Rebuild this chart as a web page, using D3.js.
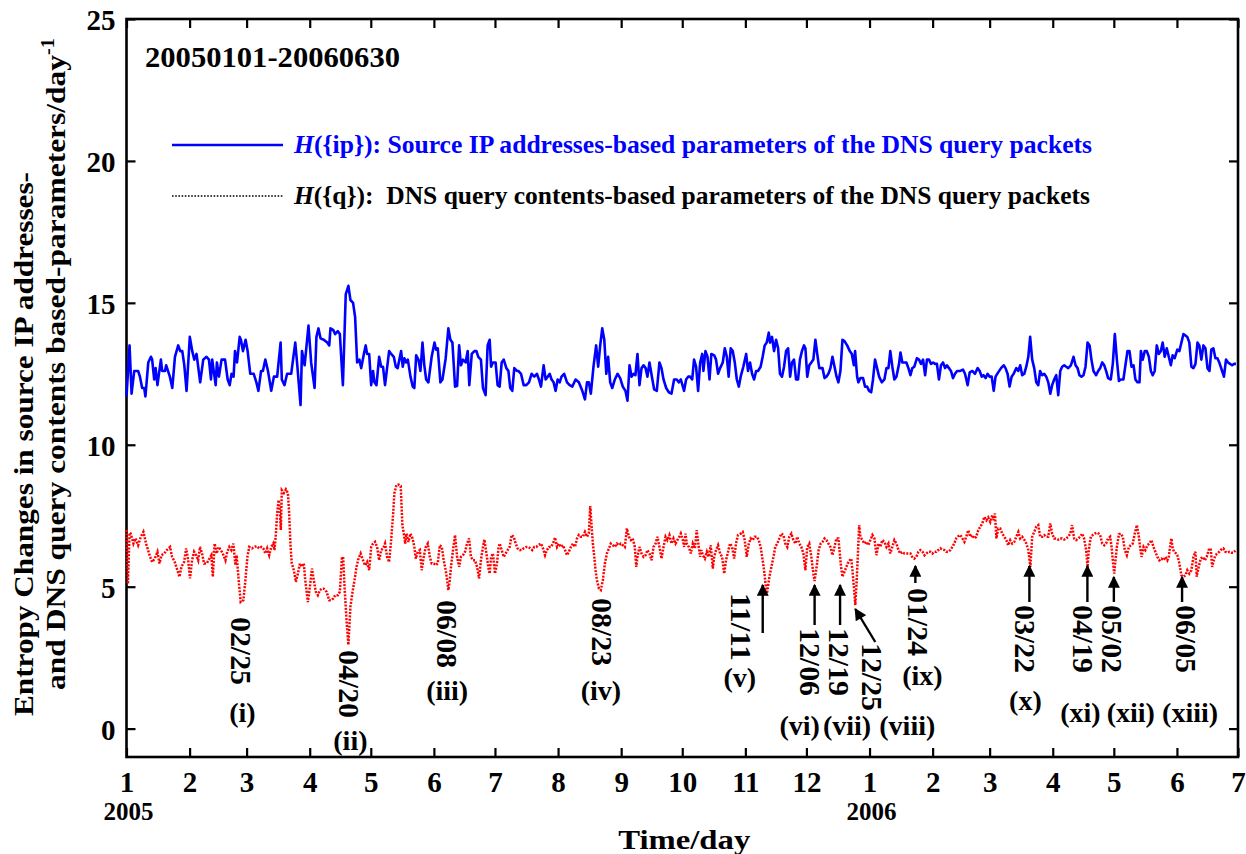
<!DOCTYPE html>
<html><head><meta charset="utf-8">
<script src="https://cdn.jsdelivr.net/npm/d3@7"></script>
<style>
body{margin:0;background:#fff;}
svg text{font-family:"Liberation Serif","Times New Roman",serif;font-weight:bold;}
</style></head><body>
<svg id="chart" width="1246" height="854"></svg>
<script>
// [day offset from 2005-01-01, entropy]
const ipSeries = [[0,11.7],[1.5,13.5],[2.5,11.8],[3.8,12.6],[5.7,12.6],[6.6,12.4],[7.7,12.0],[8.7,12.0],[9.3,11.7],[10.7,12.9],[12.0,13.1],[12.6,13.0],[13.6,12.3],[14.3,12.7],[15.2,12.1],[16.9,13.0],[17.5,12.6],[18.9,12.6],[19.5,12.8],[21.3,12.4],[22.5,12.0],[23.8,13.1],[25.4,13.5],[26.4,13.3],[27.4,13.3],[28.4,12.8],[29.5,11.9],[31.1,13.8],[32.3,13.3],[33.3,13.0],[34.4,13.2],[36.2,12.2],[37.7,13.0],[39.3,13.1],[40.5,13.0],[41.5,12.3],[42.1,13.0],[43.8,12.1],[44.4,12.9],[45.4,12.4],[46.7,13.0],[48.4,13.0],[49.7,12.3],[50.7,12.1],[51.6,12.5],[52.6,12.4],[53.3,13.3],[54.3,12.9],[55.6,13.8],[56.2,13.7],[57.2,13.3],[58.5,13.7],[59.5,13.3],[60.8,12.5],[62.5,12.5],[63.8,12.2],[64.8,11.9],[66.1,12.6],
[67.0,12.6],[68.2,13.0],[69.5,12.6],[71.1,11.9],[72.4,12.4],[74.0,12.4],[75.7,13.6],[76.3,12.3],[77.6,12.1],[78.9,12.5],[80.9,12.5],[82.9,13.6],[83.9,12.8],[85.5,11.4],[86.2,13.3],[87.5,12.8],[89.4,14.2],[90.7,12.9],[92.4,12.0],[93.3,13.8],[94.3,14.1],[95.3,13.75],[96.9,13.7],[98.6,13.6],[99.6,13.5],[100.2,14.1],[101.5,14.05],[102.5,13.9],[103.8,14.0],[104.8,13.9],[106.3,12.1],[107.7,15.3],[109.0,15.6],[110.0,15.1],[111.3,15.0],[112.3,14.5],[113.3,12.9],[114.4,13.0],[115.3,12.7],[116.6,13.2],[117.5,13.5],[118.2,13.2],[119.2,13.2],[120.2,12.1],[121.1,12.6],[121.8,12.2],[122.8,12.1],[124.1,13.1],[125.1,12.75],[126.0,12.75],[127.0,12.1],[129.0,13.3],[130.0,13.2],[131.3,13.1],[132.3,12.75],[133.2,12.7],
[134.9,13.3],[135.7,12.75],[136.5,13.05],[137.4,12.9],[138.2,13.0],[139.5,12.4],[140.6,12.05],[141.4,12.0],[142.3,13.15],[143.4,13.0],[144.4,12.6],[145.4,13.6],[146.3,12.8],[147.2,12.3],[148.3,12.2],[149.9,13.1],[151.3,13.6],[152.1,13.35],[152.9,13.4],[154.2,12.2],[155.2,12.3],[156.8,13.05],[158.1,14.1],[159.1,13.7],[160.1,13.6],[161.4,12.05],[162.4,12.07],[163.4,13.5],[164.3,12.8],[165.3,13.0],[166.6,12.9],[167.6,13.3],[168.4,12.1],[169.6,13.2],[170.9,13.3],[171.9,13.3],[172.8,13.1],[174.1,13.0],[175.1,12.0],[176.4,11.75],[177.4,13.5],[178.4,13.7],[179.1,12.75],[180.0,12.9],[181.3,12.9],[182.3,12.1],[183.3,12.05],[184.3,12.9],[185.3,13.0],[186.6,12.7],[187.6,12.6],[188.5,12.0],[189.5,11.9],[190.5,12.7],[191.8,12.6],[192.5,12.6],[193.8,12.5],[195.1,12.1],[196.4,12.1],[197.7,12.2],[199.0,12.5],[200.3,12.4],[201.6,12.5],[202.6,12.3],
[203.6,12.05],[204.9,12.8],[205.9,12.3],[206.9,12.4],[207.9,12.5],[208.8,12.3],[209.8,12.2],[210.8,11.9],[211.8,12.3],[212.8,12.2],[213.7,12.4],[215.0,12.5],[216.4,12.2],[217.7,12.1],[219.0,12.05],[220.6,12.3],[222.2,12.2],[223.9,11.9],[225.2,11.6],[226.2,12.2],[227.1,12.2],[228.1,11.8],[229.4,12.75],[230.7,13.5],[231.7,12.75],[232.7,13.5],[233.7,14.1],[234.7,13.7],[235.7,12.5],[236.6,13.1],[237.6,12.2],[238.6,12.0],[239.9,12.3],[241.2,12.5],[242.5,12.35],[243.8,12.05],[245.1,11.9],[246.1,11.55],[247.1,12.8],[248.1,12.4],[249.1,12.5],[250.0,12.45],[251.0,13.2],[252.0,12.1],[253.0,12.7],[254.0,12.8],[255.0,12.7],[255.9,12.4],[256.9,12.9],[258.2,12.35],[259.2,11.95],[260.5,11.9],[261.8,12.9],[262.8,12.7],[263.8,12.3],[265.1,12.0],[266.4,11.85],[267.7,11.8],[269.0,12.3],[270.3,12.3],[271.3,12.2],
[272.3,12.3],[273.1,12.1],[273.9,11.9],[274.9,12.3],[275.9,12.4],[276.9,12.4],[277.9,12.3],[278.8,13.0],[279.8,12.75],[280.8,11.9],[281.8,12.9],[282.8,13.2],[283.4,12.6],[284.4,13.3],[285.4,13.1],[286.4,12.3],[287.3,13.2],[288.7,13.15],[289.6,13.0],[290.6,12.5],[291.6,12.7],[292.9,12.9],[293.9,13.4],[294.9,13.1],[295.8,12.4],[296.8,13.4],[297.8,13.3],[298.8,12.9],[299.8,12.3],[300.8,12.05],[301.7,12.4],[303.0,12.75],[304.4,13.2],[305.3,12.6],[306.3,12.9],[307.3,12.5],[308.3,12.3],[309.3,12.6],[310.2,12.6],[311.5,12.75],[312.5,13.1],[313.5,13.5],[314.5,13.6],[315.5,13.95],[316.1,13.6],[317.1,13.8],[318.1,13.3],[319.1,13.7],[320.1,13.4],[321.0,12.5],[322.0,12.4],[323.0,12.75],[324.0,13.3],[325.0,13.4],[326.0,12.4],[326.9,12.9],[327.9,13.0],[328.9,12.3],[329.9,12.3],[330.8,13.0],[331.8,13.3],[332.8,13.5],[333.5,13.4],[334.4,12.4],[335.4,12.8],[336.4,12.9],[337.4,13.0],[338.4,13.7],[339.3,13.2],[340.3,12.7],
[340.9,12.7],[341.9,12.7],[342.9,12.35],[343.8,12.4],[344.8,12.5],[345.8,12.7],[346.8,13.1],[347.8,12.75],[348.8,12.4],[349.7,12.2],[350.7,12.6],[351.7,13.7],[352.7,13.65],[354.0,13.5],[355.3,13.3],[356.3,13.2],[357.3,12.8],[357.9,13.3],[358.9,12.4],[359.5,12.2],[360.5,12.35],[361.8,12.35],[362.8,12.05],[363.8,12.05],[364.8,11.9],[365.8,11.85],[366.7,12.3],[367.7,13.0],[368.7,12.7],[369.7,12.4],[371.0,12.2],[372.3,12.3],[373.3,12.7],[374.3,12.7],[375.2,13.3],[376.2,12.75],[377.2,12.3],[378.2,12.4],[379.5,12.85],[380.2,13.25],[381.1,12.9],[382.1,12.9],[383.1,12.9],[384.1,12.7],[385.1,12.45],[386.0,12.7],[387.0,12.75],[388.3,13.05],[389.3,13.0],[390.3,12.85],[391.3,13.0],[392.3,12.45],[393.2,13.0],[394.2,13.0],[395.2,12.85],[396.2,12.9],[397.2,12.85],[398.1,12.85],[399.1,12.3],[400.1,12.8],[401.1,12.9],[402.1,12.7],[403.0,12.8],[404.0,12.7],[405.0,12.6],[406.0,12.35],[407.0,12.5],[408.0,12.6],
[409.6,12.6],[410.9,12.65],[411.9,12.5],[413.2,12.1],[414.2,12.55],[415.5,12.6],[416.8,12.5],[418.1,12.7],[419.1,12.6],[420.1,12.4],[421.0,12.45],[422.0,12.35],[423.0,12.5],[424.0,12.4],[425.0,12.4],[426.0,11.9],[426.9,12.4],[428.2,12.55],[429.6,12.7],[430.9,12.8],[431.8,12.7],[432.8,12.5],[433.8,12.05],[434.8,12.4],[435.8,12.5],[437.1,12.7],[438.1,12.6],[439.0,12.8],[440.0,12.45],[441.0,12.5],[442.0,12.75],[443.0,13.1],[443.9,13.8],[444.9,13.0],[445.9,12.7],[446.9,12.2],[447.9,12.1],[448.8,12.6],[449.8,12.45],[450.8,12.5],[451.8,12.4],[452.8,12.2],[453.8,11.8],[454.7,12.1],[455.7,12.3],[456.7,12.45],[457.7,11.75],[458.7,12.6],[459.6,12.75],[460.6,12.8],[461.6,12.75],[462.6,12.7],[463.9,12.8],[465.2,13.1],[466.2,12.8],[467.2,12.7],[468.1,12.45],[469.1,12.4],[470.1,12.45],[471.1,12.75],[472.1,13.6],[473.1,13.5],[474.0,13.0],[475.0,12.6],[476.3,12.45],[477.3,12.6],
[478.3,12.7],[479.3,12.9],[480.3,12.8],[481.2,12.6],[482.2,12.35],[483.5,12.3],[484.5,12.85],[485.5,13.9],[486.5,13.0],[487.5,12.25],[488.4,12.3],[489.7,12.3],[490.7,12.8],[491.7,13.3],[492.7,13.3],[493.7,12.75],[494.7,12.8],[495.6,12.3],[496.6,12.2],[497.6,12.2],[498.3,13.3],[499.2,13.0],[500.2,13.3],[501.2,13.3],[502.2,13.1],[503.2,12.6],[504.1,12.45],[505.1,12.6],[506.1,13.5],[507.1,13.2],[508.1,13.3],[509.0,13.6],[510.0,13.1],[511.0,13.4],[512.0,13.1],[513.0,12.8],[513.9,13.15],[514.9,13.05],[516.2,13.35],[517.2,13.3],[518.2,13.6],[519.2,13.9],[520.2,13.85],[521.1,13.8],[522.1,13.6],[523.1,12.75],[524.1,12.7],[525.1,12.85],[526.1,13.6],[527.0,13.5],[528.0,13.0],[529.0,13.5],[530.0,13.4],[531.0,12.7],[532.0,12.6],[532.9,13.35],[533.9,13.4],[534.9,13.05],[535.9,13.05],[536.8,12.9],[538.2,12.6],[539.1,12.4],[540.1,13.0],[541.1,12.9],[542.1,12.85],[543.1,12.8],[544.1,12.85],[545.0,12.85]];

const qSeries = [[0,7.0],[0.7,5.1],[1.5,6.9],[2.1,6.87],[3.4,6.52],[4.4,6.7],[5.7,6.46],[7.0,6.75],[8.3,6.93],[9.6,6.52],[11.6,6.05],[12.6,5.87],[13.9,5.99],[15.2,6.23],[16.2,5.82],[17.2,6.11],[18.5,6.17],[19.8,6.29],[21.4,6.4],[22.4,6.05],[23.7,5.87],[25.0,5.58],[26.0,5.35],[27.0,5.7],[28.3,5.87],[29.3,6.35],[30.3,5.93],[31.2,5.29],[32.2,5.93],[33.2,6.23],[34.2,6.11],[35.2,5.93],[36.1,6.4],[37.1,6.17],[38.1,5.82],[39.4,5.82],[40.7,5.99],[41.7,6.11],[42.4,5.35],[43.3,6.52],[44.3,6.17],[45.3,6.4],[46.3,6.29],[47.3,6.17],[48.6,5.93],[49.5,6.23],[50.5,6.4],[51.5,6.29],[52.5,6.52],[53.5,5.76],[54.1,6.11],[55.1,5.23],[56.1,4.46],[57.4,4.52],[58.4,5.23],[59.4,6.05],[60.3,6.4],[61.6,6.35],[63.0,6.4],[63.9,6.43],[65.2,6.35],
[66.2,6.4],[67.2,6.35],[68.2,6.17],[69.1,6.35],[70.1,6.11],[71.1,6.4],[72.1,6.52],[72.7,6.29],[73.4,6.87],[74.0,7.58],[74.7,8.05],[75.4,7.6],[75.8,7.0],[76.3,8.4],[77.3,8.3],[78.3,8.43],[79.3,8.3],[79.9,7.58],[80.6,6.4],[81.2,5.82],[82.2,5.58],[83.2,5.17],[84.2,5.46],[85.2,5.82],[86.2,5.7],[87.1,5.82],[87.8,5.23],[88.4,4.88],[89.1,4.46],[90.1,5.0],[91.1,5.64],[92.0,5.23],[93.0,4.82],[94.0,4.7],[95.0,4.88],[96.0,4.93],[96.9,4.93],[98.3,4.82],[99.6,4.52],[100.5,4.52],[101.5,4.58],[102.5,4.7],[103.8,4.7],[104.8,4.82],[105.8,6.0],[106.4,6.05],[107.1,5.0],[108.1,3.8],[109.0,2.95],[110.0,4.3],[111.0,4.8],[112.0,5.23],[113.0,5.7],[114.0,6.0],[115.0,6.17],[116.2,5.93],[117.2,5.75],[118.2,5.87],[119.2,5.58],[120.2,6.4],[121.1,6.52],[122.1,6.58],[123.1,6.4],[124.1,5.93],[125.1,6.29],[126.1,6.35],[127.0,6.52],[128.0,6.05],[129.0,5.87],[130.0,6.64],[131.0,7.58],[131.6,8.3],[132.6,8.58],[133.6,8.6],[134.7,8.55],[135.5,7.2],
[136.2,6.87],[136.9,6.52],[137.5,6.87],[138.5,6.58],[139.5,6.87],[140.5,6.7],[141.4,6.4],[142.1,5.99],[143.1,6.23],[144.1,6.29],[145.0,5.58],[146.0,6.05],[147.0,6.4],[148.0,6.52],[149.0,6.05],[149.9,5.82],[150.9,5.82],[151.9,5.76],[152.9,5.82],[153.9,6.46],[154.9,6.4],[155.8,5.93],[156.8,5.58],[157.5,5.23],[158.1,4.88],[158.8,5.23],[159.4,5.7],[160.4,6.29],[161.4,6.82],[162.4,6.05],[163.4,5.7],[164.3,6.05],[165.3,6.11],[166.3,6.23],[167.3,6.52],[168.3,6.7],[169.2,6.05],[170.2,5.93],[171.2,5.93],[172.2,5.7],[173.2,5.29],[174.1,5.93],[175.1,6.4],[175.8,6.66],[176.8,6.17],[177.7,5.7],[178.4,5.46],[179.1,6.05],[180.0,6.17],[181.0,5.46],[182.0,5.82],[182.7,6.35],[183.3,6.52],[184.3,6.29],[185.3,6.05],[186.3,6.17],[187.2,6.29],[188.2,6.4],[189.2,6.82],[190.2,6.76],[191.2,6.52],[192.1,6.35],[193.1,6.29],[194.1,6.29],[195.1,6.35],[196.4,6.4],[197.4,6.4],[198.4,6.35],[199.3,6.29],[200.3,6.4],[201.3,6.4],[202.3,6.46],[203.6,6.52],
[204.6,6.35],[205.6,6.11],[206.5,6.29],[207.5,6.4],[208.5,6.4],[209.5,6.52],[210.5,6.73],[211.5,6.4],[212.4,6.52],[213.4,6.4],[214.4,6.46],[215.4,6.29],[216.4,6.11],[217.3,6.23],[218.3,6.4],[219.3,6.52],[220.3,6.4],[221.3,6.7],[222.2,6.82],[223.2,6.76],[224.2,6.76],[225.2,6.93],[226.2,6.76],[227.1,6.87],[227.8,7.84],[228.5,7.1],[229.1,6.52],[229.8,6.05],[230.4,5.58],[231.1,5.23],[232.1,4.93],[233.0,4.88],[234.0,5.23],[235.0,5.82],[236.0,6.17],[237.0,6.35],[237.9,6.52],[238.9,6.46],[239.9,6.4],[240.9,6.52],[241.9,6.46],[242.8,6.52],[243.8,6.46],[244.8,6.4],[245.8,7.05],[246.8,6.76],[247.8,6.64],[248.7,6.7],[249.7,6.4],[250.4,5.7],[251.0,6.05],[252.0,6.4],[253.0,6.17],[254.0,6.05],[255.0,6.11],[255.9,6.29],[256.9,6.17],[257.9,5.93],[258.9,6.4],[259.9,6.52],[260.8,6.76],[261.8,6.4],[262.8,5.99],[263.8,6.4],[264.8,6.76],[265.7,6.64],[266.7,6.82],[267.7,6.52],[268.7,6.7],[269.7,6.52],[270.6,6.64],[271.6,6.76],
[272.3,6.87],[273.3,6.64],[273.9,6.4],[274.6,6.87],[275.2,6.52],[276.2,6.4],[277.2,6.17],[278.2,6.52],[279.2,6.35],[280.1,6.99],[281.1,6.4],[281.8,6.05],[282.4,6.29],[283.1,6.11],[284.1,5.99],[285.1,6.23],[286.0,6.05],[287.0,6.46],[288.0,5.64],[288.7,6.05],[289.6,6.29],[290.6,6.46],[291.6,6.17],[292.6,6.05],[293.6,5.46],[294.5,5.93],[295.5,6.23],[296.5,6.52],[297.5,6.4],[298.5,5.99],[299.4,6.52],[300.4,6.82],[301.7,6.87],[302.7,6.93],[303.7,6.64],[304.7,6.05],[305.7,6.52],[306.6,6.7],[307.6,6.64],[308.6,6.76],[309.6,6.76],[310.6,6.64],[311.5,6.4],[312.5,5.93],[313.2,5.58],[313.8,5.17],[314.5,4.7],[315.1,5.0],[315.8,5.35],[316.8,5.7],[317.8,6.05],[318.7,6.4],[319.7,6.52],[320.7,6.7],[321.7,6.87],[322.7,6.82],[323.6,6.52],[324.6,6.4],[325.6,6.76],[326.6,6.87],[327.6,6.64],[328.6,6.52],[329.5,6.76],[330.5,6.52],[331.5,6.4],[332.5,6.17],[333.5,5.58],[334.4,6.4],[335.4,6.52],[336.4,6.05],[337.4,5.46],[338.0,5.2],[339.0,5.7],[340.0,6.29],[341.0,6.52],
[341.9,6.58],[342.9,6.7],[343.8,6.64],[344.8,6.52],[345.8,6.4],[346.8,6.11],[347.8,6.4],[348.7,6.7],[349.7,6.7],[350.4,6.17],[351.0,5.7],[351.7,5.35],[352.3,5.46],[353.3,5.64],[354.3,5.82],[355.3,5.93],[356.0,5.99],[356.6,5.58],[357.3,5.0],[358.0,4.35],[358.6,5.1],[359.2,6.0],[359.9,7.17],[360.5,6.76],[361.5,6.64],[362.5,6.52],[363.5,6.58],[364.4,6.46],[365.4,6.64],[366.4,6.82],[367.4,6.7],[368.4,6.11],[369.4,6.52],[370.3,6.4],[371.3,6.64],[372.3,6.58],[373.3,6.4],[374.3,6.52],[375.2,6.17],[376.2,6.4],[377.2,6.64],[378.2,6.52],[379.2,6.29],[380.1,6.17],[381.1,6.23],[382.1,6.17],[383.1,6.17],[384.1,6.17],[385.1,6.17],[386.0,6.05],[387.0,5.99],[388.0,6.05],[389.0,6.23],[390.0,6.29],[391.0,6.23],[392.0,6.11],[392.9,6.17],[393.9,6.23],[394.9,6.23],[395.9,6.17],[396.8,6.23],[397.8,6.23],[398.8,6.29],[399.8,6.35],[400.8,6.31],[401.8,6.29],[402.7,6.23],[403.7,6.23],[404.7,6.29],[405.7,6.4],[406.6,6.52],[407.6,6.7],[408.6,6.78],[409.6,6.82],
[410.6,6.7],[411.6,6.58],[412.5,6.76],[413.5,6.99],[414.5,6.76],[415.5,6.82],[416.5,6.7],[417.4,6.76],[418.4,6.99],[419.4,7.11],[420.4,7.23],[421.4,7.46],[422.4,7.34],[423.3,7.44],[424.3,7.28],[425.3,7.52],[426.0,7.34],[426.6,7.58],[427.3,6.7],[428.2,7.05],[429.2,7.05],[430.2,6.87],[431.2,6.76],[432.2,6.64],[433.1,6.46],[434.1,6.64],[435.1,6.52],[436.1,6.58],[437.1,6.76],[438.1,6.93],[439.0,6.7],[440.0,6.76],[441.0,6.66],[442.0,6.52],[443.0,6.29],[444.0,5.7],[444.9,6.76],[445.9,6.93],[446.9,7.11],[447.9,7.17],[448.8,6.76],[449.8,6.76],[450.8,6.82],[451.8,6.76],[452.8,6.76],[453.8,7.23],[454.7,6.87],[455.7,6.7],[456.7,6.7],[457.7,6.66],[458.7,6.7],[459.6,6.7],[460.6,6.66],[461.6,6.7],[462.6,6.76],[463.6,6.87],[464.5,7.17],[465.5,6.7],[466.5,6.64],[467.5,6.7],[468.5,6.76],[469.5,6.87],[470.4,6.7],[471.4,6.29],[472.1,5.7],[472.7,6.29],[473.7,6.76],[474.7,6.82],[475.7,6.87],[476.6,6.9],[477.6,6.87],[478.3,6.82],
[479.3,6.52],[480.3,6.46],[481.2,6.52],[482.2,6.7],[483.2,6.76],[483.9,6.4],[484.5,5.93],[485.2,5.46],[485.8,5.93],[486.5,6.4],[487.5,6.85],[488.4,6.87],[489.4,6.76],[490.4,6.29],[491.4,6.11],[492.4,6.4],[493.3,6.46],[494.3,6.52],[495.3,6.87],[496.3,7.17],[497.3,6.76],[497.9,6.4],[498.6,6.05],[499.6,6.4],[500.5,6.29],[501.5,6.46],[502.5,6.52],[503.5,6.64],[504.5,6.4],[505.4,6.23],[506.4,6.05],[507.4,5.93],[508.4,5.99],[509.4,5.93],[510.4,6.05],[511.3,5.93],[512.0,6.05],[512.6,6.4],[513.3,6.7],[513.9,6.35],[514.6,6.23],[515.6,6.17],[516.2,6.11],[517.2,5.82],[518.2,5.4],[519.2,5.35],[520.2,5.4],[521.1,5.58],[522.1,5.46],[523.1,5.58],[524.1,6.05],[525.1,6.23],[525.7,5.35],[526.7,5.7],[527.7,5.99],[528.7,6.05],[529.7,5.93],[530.6,6.05],[531.6,6.29],[532.6,6.35],[533.3,5.7],[533.9,5.87],[534.9,6.11],[535.9,6.17],[536.8,6.23],[537.8,6.31],[538.8,6.35],[539.8,6.23],[540.8,6.2],[541.8,6.23],[542.7,6.2],[543.7,6.2],[544.7,6.27]];

const yTicks = [0, 5, 10, 15, 20, 25];
const yearLabels = [["2005-01-01", "2005"], ["2006-01-01", "2006"]];
const eventDates = ["2005-02-25","2005-04-20","2005-06-08","2005-08-23","2005-11-11","2005-12-06","2005-12-19","2005-12-25","2006-01-24","2006-03-22","2006-04-19","2006-05-02","2006-06-05"];
const eventLabels = ["02/25","04/20","06/08","08/23","11/11","12/06","12/19","12/25","01/24","03/22","04/19","05/02","06/05"];
const eventNumerals = ["(i)","(ii)","(iii)","(iv)","(v)","(vi)","(vii)","(viii)","(ix)","(x)","(xi)","(xii)","(xiii)"];
const titleText = "20050101-20060630";

const L = 126.5, R = 1238, T = 19, B = 757;
const svg = d3.select("#chart");
const t0 = Date.UTC(2005, 0, 1);
const dayToDate = d => new Date(t0 + d * 864e5);
const parse = d3.utcParse("%Y-%m-%d");
const fit = (sel, len) => sel.attr("textLength", len).attr("lengthAdjust", "spacingAndGlyphs");

const x = d3.scaleUtc().domain([parse("2005-01-01"), parse("2006-07-01")]).range([L, R]);
const y = d3.scaleLinear().domain([-1, 25]).range([B, T]);
const months = d3.utcMonth.range(parse("2005-01-01"), parse("2006-07-02"));

// axes
const fs = 29;
const gx = svg.append("g").attr("transform", `translate(0,${B})`)
  .call(d3.axisBottom(x).tickValues(months).tickFormat(d3.utcFormat("%-m")).tickSizeInner(-9).tickSizeOuter(0).tickPadding(14));
const gxt = svg.append("g").attr("transform", `translate(0,${T})`)
  .call(d3.axisTop(x).tickValues(months).tickFormat("").tickSizeInner(-9).tickSizeOuter(0));
const gy = svg.append("g").attr("transform", `translate(${L},0)`)
  .call(d3.axisLeft(y).tickValues(yTicks).tickSizeInner(-9).tickSizeOuter(0).tickPadding(11));
const gyr = svg.append("g").attr("transform", `translate(${R},0)`)
  .call(d3.axisRight(y).tickValues(yTicks).tickFormat("").tickSizeInner(-9).tickSizeOuter(0));
[gx, gxt, gy, gyr].forEach(g => {
  g.select(".domain").remove();
  g.selectAll(".tick line").attr("stroke", "#000").attr("stroke-width", 2.2);
  g.selectAll("text").attr("font-size", fs).attr("fill", "#000")
    .attr("font-family", '"Liberation Serif","Times New Roman",serif').attr("font-weight", "bold");
});
gy.selectAll("text").attr("dy", "0.36em");
svg.append("rect").attr("x", L).attr("y", T).attr("width", R - L).attr("height", B - T)
  .attr("fill", "none").attr("stroke", "#000").attr("stroke-width", 2.6);

// year labels and x title
svg.selectAll("text.year").data(yearLabels).join("text").attr("class", "year")
  .attr("x", d => x(parse(d[0])) + 2).attr("y", 820).attr("text-anchor", "middle")
  .attr("font-size", 25).text(d => d[1]);
fit(svg.append("text").attr("x", (L + R) / 2 + 2).attr("y", 849).attr("text-anchor", "middle")
  .attr("font-size", 28).text("Time/day"), 132);

// y label
fit(svg.append("text").attr("transform", "translate(33,716) rotate(-90)").attr("font-size", 28)
  .text("Entropy Changes in source IP addresses-"), 544);
const yl2 = svg.append("text").attr("transform", "translate(65,690) rotate(-90)").attr("font-size", 28);
yl2.append("tspan").text("and DNS query contents based-parameters/day");
yl2.append("tspan").attr("font-size", 18).attr("dy", -11).text("-1");
fit(yl2, 652);

// lines
const line = d3.line().x(d => x(dayToDate(d[0]))).y(d => y(d[1]));
svg.append("path").datum(ipSeries).attr("d", line).attr("fill", "none")
  .attr("stroke", "#0000ff").attr("stroke-width", 2.6).attr("stroke-linejoin", "round");
svg.append("path").datum(qSeries).attr("d", line).attr("fill", "none")
  .attr("stroke", "#ff0000").attr("stroke-width", 2.5).attr("stroke-dasharray", "2,1.4");

// title & legend
fit(svg.append("text").attr("x", 145).attr("y", 67).attr("font-size", 30).text(titleText), 255);
svg.append("line").attr("x1", 172).attr("x2", 283).attr("y1", 145).attr("y2", 145)
  .attr("stroke", "#0000ff").attr("stroke-width", 2.6);
const lg1 = svg.append("text").attr("x", 294).attr("y", 153).attr("font-size", 25).attr("fill", "#0000ff");
lg1.append("tspan").attr("font-style", "italic").text("H");
lg1.append("tspan").text("({ip}): Source IP addresses-based parameters of the DNS query packets");
fit(lg1, 798);
svg.append("line").attr("x1", 172).attr("x2", 283).attr("y1", 196).attr("y2", 196)
  .attr("stroke", "#000").attr("stroke-width", 1.6).attr("stroke-dasharray", "1.6,1.6");
const lg2 = svg.append("text").attr("x", 294).attr("y", 204).attr("font-size", 25).attr("fill", "#000");
lg2.append("tspan").attr("font-style", "italic").text("H");
lg2.append("tspan").text("({q}):\u00a0 DNS query contents-based parameters of the DNS query packets");
fit(lg2, 796);

// annotations: layout offsets relative to the event's x position
const annLayout = [
  {tdx: 3,  ttop: 617, ndx: 4,   ny: 722, arrow: null},
  {tdx: 1,  ttop: 650, ndx: 2,   ny: 750, arrow: null},
  {tdx: -1, ttop: 600, ndx: -1,  ny: 700, arrow: null},
  {tdx: -1, ttop: 598, ndx: -2,  ny: 700, arrow: null},
  {tdx: -25, ttop: 593, ndx: -26, ny: 687, arrow: {dx0: -3, y0: 633, dx1: -3, y1: 585}},
  {tdx: -6, ttop: 628, ndx: -17, ny: 735, arrow: {dx0: -2, y0: 625, dx1: -2, y1: 585}},
  {tdx: -4, ttop: 628, ndx: 4,   ny: 735, arrow: {dx0: -3, y0: 625, dx1: -3, y1: 585}},
  {tdx: 17, ttop: 643, ndx: 52,  ny: 735, arrow: {dx0: 20, y0: 642, dx1: 0, y1: 609}},
  {tdx: 2,  ttop: 588, ndx: 6,   ny: 685, arrow: {dx0: -1, y0: 583, dx1: -1, y1: 566}},
  {tdx: -7, ttop: 605, ndx: -7,  ny: 710, arrow: {dx0: -3, y0: 602, dx1: -3, y1: 566}},
  {tdx: -6, ttop: 605, ndx: -9,  ny: 722, arrow: {dx0: -2, y0: 602, dx1: -2, y1: 566}},
  {tdx: -4, ttop: 605, ndx: 15,  ny: 722, arrow: {dx0: -2, y0: 602, dx1: -2, y1: 577}},
  {tdx: 1,  ttop: 605, ndx: 5,   ny: 722, arrow: {dx0: -3, y0: 602, dx1: -3, y1: 577}}
];
const defs = svg.append("defs");
defs.append("marker").attr("id", "ah").attr("viewBox", "0 0 10 10").attr("refX", 9).attr("refY", 5)
  .attr("markerWidth", 5.5).attr("markerHeight", 5).attr("markerUnits", "strokeWidth").attr("orient", "auto")
  .append("path").attr("d", "M0,0 L10,5 L0,10 Z").attr("fill", "#000");
const ann = svg.append("g");
eventDates.forEach((ds, i) => {
  const ex = x(parse(ds));
  const lay = annLayout[i];
  fit(ann.append("text").attr("transform", `translate(${ex + lay.tdx},${lay.ttop}) rotate(90)`)
    .attr("dy", "0.35em").attr("font-size", 29).text(eventLabels[i]), 68);
  ann.append("text").attr("x", ex + lay.ndx).attr("y", lay.ny).attr("text-anchor", "middle")
    .attr("font-size", 28).text(eventNumerals[i]);
  if (lay.arrow) {
    ann.append("line").attr("x1", ex + lay.arrow.dx0).attr("y1", lay.arrow.y0)
      .attr("x2", ex + lay.arrow.dx1).attr("y2", lay.arrow.y1)
      .attr("stroke", "#000").attr("stroke-width", 2.4).attr("marker-end", "url(#ah)");
  }
});
</script></body></html>
